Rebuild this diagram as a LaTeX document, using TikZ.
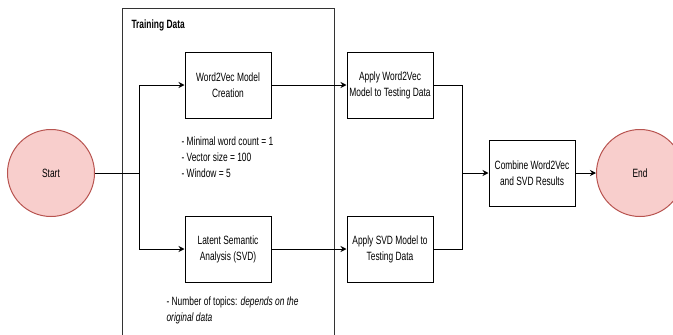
\documentclass[tikz,border=0pt]{standalone}
\usepackage{fontspec}
\setmainfont{Liberation Sans}[FakeStretch=0.7]
\usetikzlibrary{arrows.meta}

\definecolor{termfill}{HTML}{F8CECC}
\definecolor{termline}{HTML}{B85450}

\tikzset{
  txt/.style={font=\fontsize{12}{16}\selectfont},
  box/.style={txt, draw, line width=1pt, minimum width=86pt, minimum height=66pt, align=center, inner sep=1pt},
  term/.style={txt, circle, draw=termline, fill=termfill, line width=1pt, minimum size=87pt},
  link/.style={line width=1pt, -{Stealth[length=6pt,width=6pt]}}
}

\begin{document}
\begin{tikzpicture}[x=1pt,y=-1pt]

\useasboundingbox (0,0) rectangle (673,335);
\clip (0,0) rectangle (673,335);

% training data frame
\draw[line width=0.9pt, black!80] (122,340) -- (122,8) -- (334,8) -- (334,340);
\node[txt, anchor=west, font=\fontsize{12}{16}\selectfont\bfseries] (frame) at (128,25) {Training Data};

\node[term] (start) at (51,173) {Start};
\node[term] (stop) at (640,173) {End};

\node[box] (w2v) at (228,85) {Word2Vec Model\\Creation};
\node[box] (lsa) at (228,249) {Latent Semantic\\Analysis (SVD)};
\node[box] (applyw2v) at (390,85) {Apply Word2Vec\\Model to Testing Data};
\node[box] (applysvd) at (390,249) {Apply SVD Model to\\Testing Data};
\node[box] (combine) at (532,173) {Combine Word2Vec\\and SVD Results};

\node[txt, anchor=west, align=left] (params) at (178,157) {- Minimal word count = 1\\- Vector size = 100\\- Window = 5};
\node[txt, anchor=west, align=left] (topics) at (163,310) {- Number of topics: \textit{depends on the}\\\textit{original data}};

\coordinate (split) at (139,173);
\coordinate (merge) at (462,173);

\draw[line width=1pt] (start) -- (split);
\draw[link] (split) |- (w2v);
\draw[link] (split) |- (lsa);
\draw[link] (w2v) -- (applyw2v);
\draw[link] (lsa) -- (applysvd);
\draw[line width=1pt] (applyw2v) -| (merge);
\draw[line width=1pt] (applysvd) -| (merge);
\draw[link] (merge) -- (combine);
\draw[link] (combine) -- (stop);

\end{tikzpicture}
\end{document}
